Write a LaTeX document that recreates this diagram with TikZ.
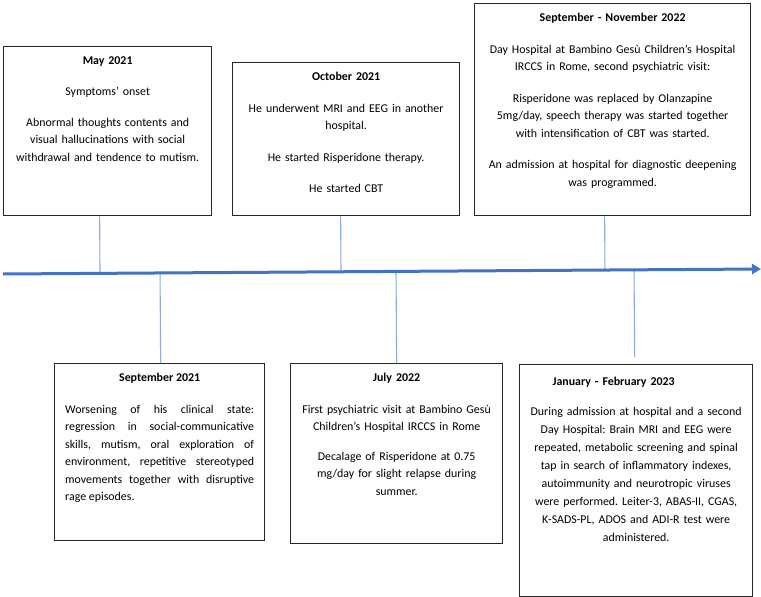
\documentclass[tikz,border=0pt]{standalone}
\usepackage{fontspec}
\setmainfont{Carlito}
\frenchspacing
\usetikzlibrary{calc,arrows.meta}
\definecolor{lineblue}{RGB}{68,114,196}
\definecolor{tickblue}{RGB}{143,170,220}
\tikzset{timeline/.style={line width=3pt,lineblue,-{Triangle[length=9pt,width=10pt]}}}
\tikzset{tick/.style={line width=1.1pt,tickblue}}
\tikzset{eventbox/.style={draw=black!85,line width=1.3pt,anchor=north west,inner sep=0pt}}
\tikzset{eventtext/.style={anchor=north,align=center,inner xsep=0pt,inner ysep=10pt,
    font=\fontsize{11.9}{17.5}\selectfont}}

\begin{document}
\begin{tikzpicture}[x=1pt,y=-1pt]
        \useasboundingbox (0,0) rectangle (761,597);
        % Boxes above the time line
        \node[eventbox, minimum width=208pt, minimum height=169pt] (may) at (3,46) {};
        \node[eventbox, minimum width=227pt, minimum height=153pt] (oct) at (232,62) {};
        \node[eventbox, minimum width=276pt, minimum height=212pt] (sepnov) at (474,3) {};
        % Boxes below the time line
        \node[eventbox, minimum width=210pt, minimum height=177pt] (sep21) at (54,363) {};
        \node[eventbox, minimum width=212pt, minimum height=180pt] (jul22) at (290,363) {};
        \node[eventbox, minimum width=233pt, minimum height=232pt] (janfeb) at (519,364) {};
        % Texts
        \node[eventtext, text width=200pt] (may-txt) at (may.north)
        {\textbf{May 2021}\\[14pt] Symptoms’ onset\\[13pt]
        Abnormal thoughts contents and\\ visual hallucinations with social\\
        withdrawal and tendence to mutism.};
        \node[eventtext, text width=215pt] (oct-txt) at (oct.north)
        {\textbf{October 2021}\\[14pt] He underwent MRI and EEG in another\\ hospital.\\[14pt]
        He started Risperidone therapy.\\[14pt] He started CBT};
        \node[eventtext, text width=270pt] (sepnov-txt) at (sepnov.north)
        {\textbf{September - November 2022}\\[14pt]
        Day Hospital at Bambino Gesù Children’s Hospital\\ IRCCS in Rome, second psychiatric visit:\\[14pt]
        Risperidone was replaced by Olanzapine\\ 5mg/day, speech therapy was started together\\
        with intensification of CBT was started.\\[14pt]
        An admission at hospital for diagnostic deepening\\ was programmed.};
        \node[eventtext, text width=189pt, align=justify] (sep21-txt) at (sep21.north)
        {\makebox[189pt]{\textbf{September 2021}}\\[14pt]
        Worsening of his clinical state:\linebreak regression in social-communicative\linebreak
        skills, mutism, oral exploration of\linebreak environment, repetitive stereotyped\linebreak
        movements together with disruptive\linebreak rage episodes.};
        \node[eventtext, text width=205pt] (jul22-txt) at (jul22.north)
        {\textbf{July 2022}\\[14pt] First psychiatric visit at Bambino Gesù\\
        Children’s Hospital IRCCS in Rome\\[12pt] Decalage of Risperidone at 0.75\\
        mg/day for slight relapse during\\ summer.};
        \node[eventtext, text width=225pt, inner ysep=13pt,
        font=\fontsize{11.9}{18}\selectfont] (janfeb-txt) at (janfeb.north)
        {\hspace*{-45pt}\textbf{January - February 2023}\\[12pt]
        During admission at hospital and a second\\ Day Hospital: Brain MRI and EEG were\\
        repeated, metabolic screening and spinal\\ tap in search of inflammatory indexes,\\
        autoimmunity and neurotropic viruses\\ were performed. Leiter-3, ABAS-II, CGAS,\\
        K-SADS-PL, ADOS and ADI-R test were\\ administered.};
        % Time line and its ticks
        \coordinate (tlstart) at (3,274);
        \coordinate (tlend) at (761,269);
        \coordinate (may-t) at ([xshift=-8pt]may.south);
        \coordinate (oct-t) at ([xshift=-5.5pt]oct.south);
        \coordinate (sepnov-t) at ([xshift=-8pt]sepnov.south);
        \coordinate (sep21-t) at ([xshift=1pt]sep21.north);
        \coordinate (jul22-t) at (jul22.north);
        \coordinate (janfeb-t) at ([xshift=-1.5pt,yshift=7pt]janfeb.north);
        \foreach \ev in {may,oct,sepnov,sep21,jul22,janfeb}
            \draw[tick] (\ev-t) -- ($(tlstart)!(\ev-t)!(tlend)$);
        \draw[timeline] (tlstart) -- (tlend);
    \end{tikzpicture}
\end{document}
